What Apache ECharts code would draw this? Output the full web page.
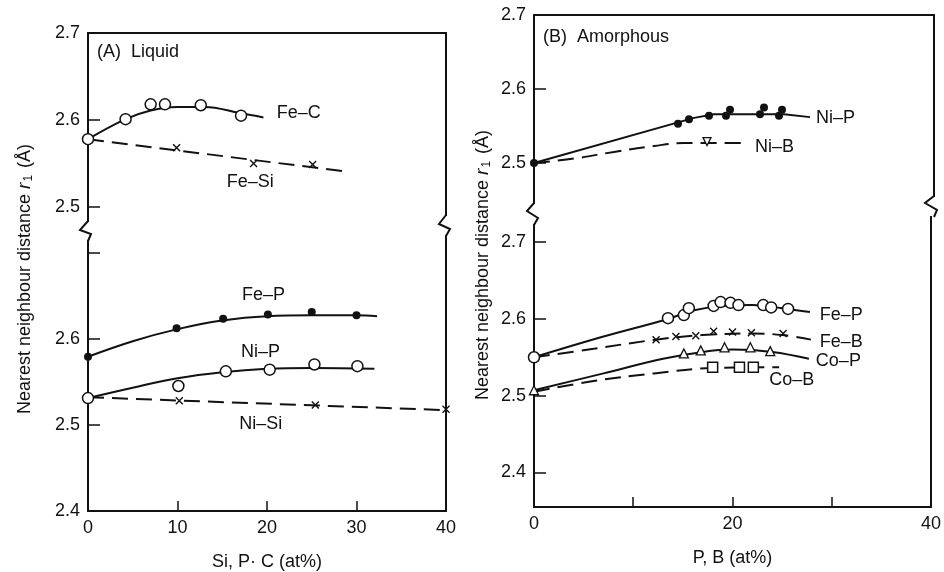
<!DOCTYPE html>
<html>
<head>
<meta charset="utf-8">
<script src="https://cdn.jsdelivr.net/npm/echarts@6/dist/echarts.min.js"></script>
<style>
html, body { margin: 0; padding: 0; background: #fff; }
#chart { width: 944px; height: 572px; }
</style>
</head>
<body>
<div id="chart"></div>
<script>
// ---- data: [at%, r1 (Å)] ----
// (A) Liquid, upper section
const feC_pts = [[0, 2.578], [4.2, 2.601], [7.0, 2.618], [8.6, 2.618], [12.6, 2.617], [17.1, 2.605]]
const feC_curve = [[0, 2.578], [4.2, 2.601], [7, 2.611], [10, 2.615], [13, 2.615], [17, 2.608], [19.6, 2.603]]
const feSi_pts = [[9.9, 2.568], [18.5, 2.550], [25.1, 2.549]]
const feSi_line = [[0, 2.578], [28.6, 2.541]]
// (A) Liquid, lower section
const feP_pts = [[0, 2.579], [9.9, 2.612], [15.1, 2.623], [20.1, 2.628], [25, 2.631], [30, 2.627]]
const feP_curve = [[0, 2.579], [5, 2.597], [10, 2.611], [15, 2.621], [20, 2.626], [25, 2.627], [30, 2.627], [32.3, 2.626]]
const niP_pts = [[0, 2.531], [10.1, 2.545], [15.4, 2.562], [20.3, 2.564], [25.3, 2.570], [30.1, 2.568]]
const niP_curve = [[0, 2.531], [5, 2.543], [10, 2.554], [15, 2.561], [20, 2.565], [25, 2.566], [32, 2.565]]
const niSi_pts = [[10.2, 2.528], [25.4, 2.523], [40, 2.518]]
const niSi_line = [[0, 2.532], [40, 2.517]]
// (B) Amorphous, upper section
const aNiP_pts = [[0, 2.5], [14.4, 2.553], [15.5, 2.559], [17.5, 2.564], [19.2, 2.564], [19.6, 2.572], [22.6, 2.566], [23.0, 2.575], [24.5, 2.564], [24.8, 2.572]]
const aNiP_line = [[0, 2.5], [16, 2.561], [18, 2.566], [25, 2.566], [27.6, 2.562]]
const aNiB_pts = [[17.3, 2.529]]
const aNiB_line = [[0, 2.5], [4, 2.506], [8, 2.515], [12, 2.523], [15, 2.527], [21.2, 2.527]]
// (B) Amorphous, lower section
const aFeP_pts = [[0, 2.550], [13.5, 2.601], [15.1, 2.605], [15.6, 2.614], [18.1, 2.617], [18.8, 2.622], [19.8, 2.621], [20.6, 2.618], [23.1, 2.618], [23.9, 2.615], [25.6, 2.613]]
const aFeP_curve = [[0, 2.550], [7, 2.577], [13.5, 2.600], [16, 2.611], [19, 2.617], [22, 2.618], [25, 2.614], [27.8, 2.609]]
const aFeB_pts = [[12.3, 2.573], [14.3, 2.577], [16.3, 2.578], [18.1, 2.584], [20.0, 2.583], [21.9, 2.582], [25.1, 2.581]]
const aFeB_line = [[0, 2.550], [6, 2.561], [12.3, 2.573], [17, 2.579], [22, 2.581], [25, 2.579], [27.9, 2.573]]
const aCoP_pts = [[0, 2.507], [15.1, 2.555], [16.8, 2.559], [19.2, 2.563], [21.8, 2.563], [23.8, 2.558]]
const aCoP_curve = [[0, 2.507], [7, 2.529], [13, 2.548], [17, 2.557], [20, 2.560], [24, 2.557], [27.7, 2.548]]
const aCoB_pts = [[18.0, 2.537], [20.7, 2.537], [22.1, 2.537]]
const aCoB_line = [[0, 2.505], [6, 2.519], [12.1, 2.529], [18, 2.536], [24.7, 2.537]]

// curve labels: [x, y, text]
const labelsAU = [[21.1, 2.608, 'Fe–C'], [15.5, 2.529, 'Fe–Si']]
const labelsAL = [[17.2, 2.651, 'Fe–P'], [17.1, 2.585, 'Ni–P'], [16.9, 2.5006, 'Ni–Si']]
const labelsBU = [[28.2, 2.561, 'Ni–P'], [22.1, 2.522, 'Ni–B']]
const labelsBL = [[28.8, 2.605, 'Fe–P'], [28.8, 2.570, 'Fe–B'], [28.4, 2.545, 'Co–P'], [23.7, 2.520, 'Co–B']]

// ticks
const xTicks = [10, 20, 30]
const xLabelsA = [0, 10, 20, 30, 40]
const xLabelsB = [0, 20, 40]

const FONT = 'Liberation Sans'
const BLACK = '#111'
const line2 = { lineStyle: { color: BLACK, width: 2 } }

const grids = [
  { left: 88, right: 498, top: 33, height: 197 },
  { left: 88, right: 498, top: 230, height: 282 },
  { left: 534, right: 10, top: 15, height: 197 },
  { left: 534, right: 10, top: 212, height: 298 },
]

function yMain(g, min, max, ticks, labels) {
  return {
    type: 'value', gridIndex: g, min, max, position: 'left',
    axisLine: { show: true, ...line2 },
    axisTick: { show: true, inside: true, length: 12, customValues: ticks, lineStyle: { color: BLACK, width: 1.5 } },
    axisLabel: { customValues: labels, margin: 8, color: BLACK, fontSize: 18, fontFamily: FONT, formatter: v => v.toFixed(1) },
    splitLine: { show: false },
  }
}
function yRight(g, min, max) {
  return {
    type: 'value', gridIndex: g, min, max, position: 'right',
    axisLine: { show: true, ...line2 }, axisTick: { show: false }, axisLabel: { show: false }, splitLine: { show: false },
  }
}
function xTop(g) {
  return {
    type: 'value', gridIndex: g, min: 0, max: 40, position: 'top',
    axisLine: { show: true, ...line2 }, axisTick: { show: false }, axisLabel: { show: false }, splitLine: { show: false },
  }
}
function xBottom(g, labels, name) {
  return {
    type: 'value', gridIndex: g, min: 0, max: 40, position: 'bottom',
    axisLine: { show: true, ...line2 },
    axisTick: { show: true, inside: true, length: 10, customValues: xTicks, lineStyle: { color: BLACK, width: 1.5 } },
    axisLabel: { customValues: labels, margin: 8, color: BLACK, fontSize: 18, fontFamily: FONT },
    splitLine: { show: false },
    name, nameLocation: 'middle', nameGap: 42,
    nameTextStyle: { color: BLACK, fontSize: 18, fontFamily: FONT },
  }
}

function curve(g, data, dashed, smooth) {
  return {
    type: 'line', xAxisIndex: g, yAxisIndex: g, data, showSymbol: false,
    smooth: smooth === false ? false : 0.4, z: 2, silent: true,
    lineStyle: { color: BLACK, width: 2, type: dashed ? [16, 8] : 'solid' },
  }
}
const SYM = {
  open: { symbol: 'circle', symbolSize: 11, itemStyle: { color: '#fff', borderColor: BLACK, borderWidth: 1.5, opacity: 1 } },
  dot: { symbol: 'circle', symbolSize: 8, itemStyle: { color: BLACK, opacity: 1 } },
  cross: { symbol: 'path://M0,0L10,10M10,0L0,10', symbolSize: 7, itemStyle: { color: BLACK, borderColor: BLACK, borderWidth: 1.4, opacity: 1 } },
  tri: { symbol: 'triangle', symbolSize: 9, itemStyle: { color: '#fff', borderColor: BLACK, borderWidth: 1.3, opacity: 1 } },
  triDown: { symbol: 'triangle', symbolSize: 8, symbolRotate: 180, itemStyle: { color: '#fff', borderColor: BLACK, borderWidth: 1.3, opacity: 1 } },
  square: { symbol: 'rect', symbolSize: 10, itemStyle: { color: '#fff', borderColor: BLACK, borderWidth: 1.5, opacity: 1 } },
}
function marks(g, data, kind) {
  return { type: 'scatter', xAxisIndex: g, yAxisIndex: g, data, z: 4, silent: true, ...SYM[kind] }
}
function names(g, data) {
  return {
    type: 'scatter', xAxisIndex: g, yAxisIndex: g, data, symbolSize: 0, silent: true, z: 5,
    itemStyle: { color: BLACK, opacity: 1 },
    label: {
      show: true, position: [0, 0], align: 'left', verticalAlign: 'middle',
      formatter: p => p.data[2], color: BLACK, fontSize: 18, fontFamily: FONT,
      textBorderWidth: 0, textBorderColor: 'transparent',
    },
  }
}

// small zig-zag break marks on the frame
function zig(pts) {
  const xs = pts.map(p => p[0]), ys = pts.map(p => p[1])
  return [
    { type: 'rect', z: 100, shape: { x: Math.min(...xs) - 2, y: Math.min(...ys) + 1, width: Math.max(...xs) - Math.min(...xs) + 4, height: Math.max(...ys) - Math.min(...ys) - 2 }, style: { fill: '#fff' } },
    { type: 'polyline', z: 101, shape: { points: pts }, style: { stroke: BLACK, lineWidth: 2, fill: null } },
  ]
}
function yTitle(x, y, size) {
  return {
    type: 'text', x, y, rotation: Math.PI / 2, z: 100,
    style: {
      text: '{a|Nearest neighbour distance }{r|r}{s|1}{a| (Å)}',
      align: 'center', verticalAlign: 'middle', fill: BLACK,
      rich: {
        a: { fontSize: size, fontFamily: FONT, fill: BLACK, verticalAlign: 'bottom' },
        r: { fontSize: size + 1, fontFamily: FONT, fontStyle: 'italic', fill: BLACK, verticalAlign: 'bottom' },
        s: { fontSize: size - 6, fontFamily: FONT, fill: BLACK, verticalAlign: 'bottom', padding: [0, 2, 0, 1] },
      },
    },
  }
}

const chart = echarts.init(document.getElementById('chart'), null, { renderer: 'canvas' })
chart.setOption({
  animation: false,
  backgroundColor: '#fff',
  grid: grids,
  xAxis: [xTop(0), xBottom(1, xLabelsA, 'Si, P· C (at%)'), xTop(2), xBottom(3, xLabelsB, 'P, B (at%)')],
  yAxis: [
    yMain(0, 2.4736, 2.7, [2.5, 2.6], [2.5, 2.6, 2.7]),
    yMain(1, 2.4, 2.726, [2.5, 2.6, 2.7], [2.4, 2.5, 2.6]),
    yMain(2, 2.4338, 2.7, [2.5, 2.6], [2.5, 2.6, 2.7]),
    yMain(3, 2.3548, 2.7394, [2.4, 2.5, 2.6, 2.7], [2.4, 2.5, 2.6, 2.7]),
    yRight(0, 2.4736, 2.7), yRight(1, 2.4, 2.726), yRight(2, 2.4338, 2.7), yRight(3, 2.3548, 2.7394),
  ],
  series: [
    curve(0, feC_curve, false), curve(0, feSi_line, true, false),
    marks(0, feSi_pts, 'cross'), marks(0, feC_pts, 'open'), names(0, labelsAU),

    curve(1, feP_curve, false), curve(1, niP_curve, false), curve(1, niSi_line, true, false),
    marks(1, feP_pts, 'dot'), marks(1, niSi_pts, 'cross'), marks(1, niP_pts, 'open'), names(1, labelsAL),

    curve(2, aNiP_line, false, false), curve(2, aNiB_line, true),
    marks(2, aNiP_pts, 'dot'), marks(2, aNiB_pts, 'triDown'), names(2, labelsBU),

    curve(3, aFeP_curve, false), curve(3, aFeB_line, true), curve(3, aCoP_curve, false), curve(3, aCoB_line, true),
    marks(3, aFeB_pts, 'cross'), marks(3, aFeP_pts, 'open'), marks(3, aCoP_pts, 'tri'), marks(3, aCoB_pts, 'square'),
    names(3, labelsBL),
  ],
  graphic: [
    { type: 'text', left: 97, top: 43, z: 100, style: { text: '(A)  Liquid', fontSize: 18, fontFamily: FONT, fill: BLACK } },
    { type: 'text', left: 543, top: 28, z: 100, style: { text: '(B)  Amorphous', fontSize: 18, fontFamily: FONT, fill: BLACK } },
    yTitle(25, 279, 18),
    yTitle(483, 265, 18),
    ...zig([[88, 221], [80, 230], [91, 234], [88, 241]]),
    ...zig([[446, 215], [439, 224], [450, 229], [446, 236]]),
    ...zig([[534, 203], [527, 211], [538, 218], [534, 225]]),
    ...zig([[934, 196], [925, 203], [937, 210], [934, 217]]),
  ],
})
</script>
</body>
</html>
